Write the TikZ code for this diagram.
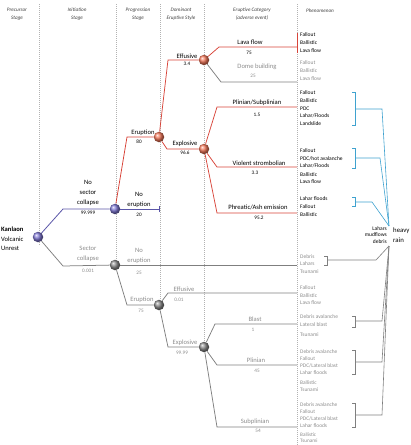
\documentclass[tikz,border=0pt]{standalone}
\usepackage{fontspec}
\setmainfont{Carlito}
\definecolor{bl}{HTML}{5A56A8}
\definecolor{blball}{HTML}{8078D4}
\definecolor{rd}{HTML}{D8453A}
\definecolor{rdball}{HTML}{F4785A}
\definecolor{gr}{HTML}{7F7F7F}
\definecolor{grball}{HTML}{8A8A8A}
\definecolor{cy}{HTML}{3FA2CF}
\definecolor{tg}{HTML}{8C8C8C}
\begin{document}
\begin{tikzpicture}[x=1pt,y=-1pt,
  hdr/.style={font=\fontsize{5.2}{7.8}\selectfont\itshape, align=center, text=black!75, inner sep=0pt},
  lab/.style={font=\fontsize{6.6}{9.7}\selectfont, align=center, inner sep=0pt},
  num/.style={font=\fontsize{5.2}{6}\selectfont, inner sep=0pt},
  phen/.style={font=\fontsize{5.5}{7.6}\selectfont, align=left, anchor=west, inner sep=0pt},
  guide/.style={black!30, dash pattern=on 0.5pt off 1.5pt, line width=0.4pt},
  ballnode/.style={circle, minimum size=10.5pt, inner sep=0pt, shading=ball},
  bb/.style={ballnode, ball color=blball},
  rb/.style={ballnode, ball color=rdball},
  gb/.style={ballnode, ball color=grball},
  bline/.style={bl, line width=0.8pt},
  rline/.style={rd, line width=0.75pt},
  gline/.style={gr, line width=0.75pt},
  cline/.style={cy, line width=0.6pt},
  kline/.style={gr, line width=0.6pt},
  grey/.style={text=tg}
]
\useasboundingbox (0,0) rectangle (411,445);

% column guides
\draw[guide] (39,4) -- (39,246);
\draw[guide] (116,4) -- (116,262);
\draw[guide] (160,4) -- (160,300);
\draw[guide] (204,4) -- (204,342);
\draw[guide] (297,4) -- (297,445);

% headers
\node[hdr] (h1) at (17,14) {Precursor\\Stage};
\node[hdr] (h2) at (77,14) {Initiation\\Stage};
\node[hdr] (h3) at (138,14) {Progression\\Stage};
\node[hdr] (h4) at (181,14) {Dominant\\Eruptive Style};
\node[hdr] (h5) at (252,14) {Eruptive Category\\(adverse event)};
\node[hdr] (h6) at (320,11) {Phenomenon};

% nodes
\node[bb] (K) at (38,237) {};
\node[bb] (NSC) at (115,209) {};
\node[gb] (SC) at (115,265) {};
\node[rb] (ER1) at (159,137) {};
\node[rb] (EF1) at (204,60) {};
\node[rb] (EX1) at (204,149) {};
\node[gb] (ER2) at (159,305) {};
\node[gb] (EX2) at (204,347) {};

% terminal coordinates
\coordinate (tNE1) at (159,209);
\coordinate (tLF) at (297,47);
\coordinate (tDB) at (297,82);
\coordinate (tPS) at (297,107);
\coordinate (tVS) at (297,167);
\coordinate (tPA) at (297,213);
\coordinate (tNE2) at (297,265);
\coordinate (tEF2) at (297,293);
\coordinate (tBL) at (297,324);
\coordinate (tPL) at (297,365);
\coordinate (tSP) at (297,427);

% branches
\draw[bline] (K) -- (63,209) -- (NSC);
\draw[gline] (K) -- (63,266) -- (SC);
\draw[rline] (NSC) -- (127,137) -- (ER1);
\draw[bline] (NSC) -- (tNE1);
\draw[bline] ([yshift=-3pt]tNE1) -- ([yshift=3pt]tNE1);
\draw[rline] (ER1) -- (168,60) -- (EF1);
\draw[rline] (ER1) -- (167,149) -- (EX1);
\draw[rline] (EF1) -- (219,47) -- (tLF);
\draw[gline] (EF1) -- (221,82) -- (tDB);
\draw[rline] (EX1) -- (217,107) -- (tPS);
\draw[rline] (EX1) -- (217,167) -- (tVS);
\draw[rline] (EX1) -- (217,213) -- (tPA);
\draw[gline] (SC) -- (tNE2);
\draw[gline] (SC) -- (127,305) -- (ER2);
\draw[gline] (ER2) -- (168,293) -- (tEF2);
\draw[gline] (ER2) -- (168,347) -- (EX2);
\draw[gline] (EX2) -- (215,324) -- (tBL);
\draw[gline] (EX2) -- (217,365) -- (tPL);
\draw[gline] (EX2) -- (217,427) -- (tSP);

% end bar
\draw[rd, line width=0.6pt] (297,33) -- (297,53);

% labels
\node[font=\fontsize{6.6}{9.7}\selectfont, align=left, anchor=west, inner sep=0pt] (kt) at (1,239) {\textbf{Kanlaon}\\Volcanic\\Unrest};
\node[lab] (l1) at (88,193) {No\\sector\\collapse};
\node[num] (n1) at (88,213) {99.999};
\node[lab, grey] (l2) at (88,254) {Sector\\collapse};
\node[num, grey] (n2) at (88,271) {0.001};
\node[lab] (l3) at (143,133) {Eruption};
\node[num] (n3) at (139,142) {80};
\node[lab] (l4) at (139,200) {No\\eruption};
\node[num] (n4) at (139,215) {20};
\node[lab, grey] (l5) at (139,256) {No\\eruption};
\node[num, grey] (n5) at (139,273) {25};
\node[lab, grey] (l6) at (142,300) {Eruption};
\node[num, grey] (n6) at (141,311) {75};
\node[lab] (l7) at (187,56) {Effusive};
\node[num] (n7) at (187,64) {3.4};
\node[lab] (l8) at (185,144) {Explosive};
\node[num] (n8) at (185,153) {96.6};
\node[lab, grey] (l9) at (184,289) {Effusive};
\node[num, grey] (n9) at (179,300) {0.01};
\node[lab, grey] (l10) at (185,343) {Explosive};
\node[num, grey] (n10) at (182,353) {99.99};
\node[lab] (l11) at (250,42) {Lava flow};
\node[num] (n11) at (249,53) {75};
\node[lab, grey] (l12) at (257,67) {Dome building};
\node[num, grey] (n12) at (253,76) {25};
\node[lab] (l13) at (257,103) {Plinian/Subplinian};
\node[num] (n13) at (257,115) {1.5};
\node[lab] (l14) at (259,163) {Violent strombolian};
\node[num] (n14) at (255,173) {3.3};
\node[lab] (l15) at (258,207) {Phreatic/Ash emission};
\node[num] (n15) at (259,218) {95.2};
\node[lab, grey] (l16) at (255,319) {Blast};
\node[num, grey] (n16) at (253,330) {1};
\node[lab, grey] (l17) at (256,360) {Plinian};
\node[num, grey] (n17) at (257,371) {45};
\node[lab, grey] (l18) at (255,422) {Subplinian};
\node[num, grey] (n18) at (258,431) {54};

% phenomena
\node[phen] (p1) at (300,42.6) {Fallout\\Ballistic\\Lava flow};
\node[phen, grey] (p2) at (300,70.6) {Fallout\\Ballistic\\Lava flow};
\node[phen] (p3) at (300,108.2) {Fallout\\Ballistic\\PDC\\Lahar/Floods\\Landslide};
\node[phen] (p4) at (300,158.6) {Fallout\\PDC/hot avalanche\\Lahar/Floods};
\node[phen] (p4b) at (300,178.3) {Ballistic\\Lava flow};
\node[phen] (p5) at (300,206.6) {Lahar floods\\Fallout\\Ballistic};
\node[phen, grey] (p6) at (300,264) {Debris\\Lahars\\Tsunami};
\node[phen, grey] (p7) at (300,295.3) {Fallout\\Ballistic\\Lava flow};
\node[phen, grey] (p8) at (300,320.6) {Debris avalanche\\Lateral blast};
\node[phen, grey] (p8b) at (300,335) {Tsunami};
\node[phen, font=\fontsize{5.4}{7}\selectfont, grey] (p9) at (300,362.5) {Debris avalanche\\Fallout\\PDC/Lateral blast\\Lahar floods};
\node[phen, font=\fontsize{5.4}{7}\selectfont, grey] (p9b) at (300,386) {Ballistic\\Tsunami};
\node[phen, font=\fontsize{5.4}{7}\selectfont, grey] (p10) at (300,415) {Debris avalanche\\Fallout\\PDC/Lateral blast\\Lahar floods};
\node[phen, font=\fontsize{5.2}{6.4}\selectfont, grey] (p10b) at (300,437.5) {Ballistic\\Tsunami};

% heavy rain
\coordinate (cb) at (389,226);
\coordinate (cg) at (389,246);
\node[font=\fontsize{5.5}{6.2}\selectfont, align=right, anchor=east, inner sep=0pt] (lm) at (387,235) {Lahars\\mudflows\\debris};
\node[font=\fontsize{6.8}{10}\selectfont, align=left, anchor=west, inner sep=0pt] (hr) at (393,235) {heavy\\rain};

% brackets blue
\draw[cline] (352,92) -- (355,92) -- (355,125) -- (352,125);
\draw[cline] (355,109) -- (382,109) -- (cb);
\draw[cline] (352,148) -- (355,148) -- (355,168) -- (352,168);
\draw[cline] (355,158) -- (380,158) -- (cb);
\draw[cline] (352,197) -- (355,197) -- (355,206) -- (352,206);
\draw[cline] (355,202) -- (372,202) -- (cb);

% brackets grey
\draw[kline] (324,256) -- (327,256) -- (327,265) -- (324,265);
\draw[kline] (327,260) -- (376,260) -- (cg);
\draw[kline] (352,316) -- (355,316) -- (355,327) -- (352,327);
\draw[kline] (355,321) -- (382,321) -- (cg);
\draw[kline] (352,350) -- (355,350) -- (355,374) -- (352,374);
\draw[kline] (355,362) -- (382,362) -- (cg);
\draw[kline] (352,403) -- (355,403) -- (355,427) -- (352,427);
\draw[kline] (355,415) -- (382,415) -- (cg);
\end{tikzpicture}
\end{document}
